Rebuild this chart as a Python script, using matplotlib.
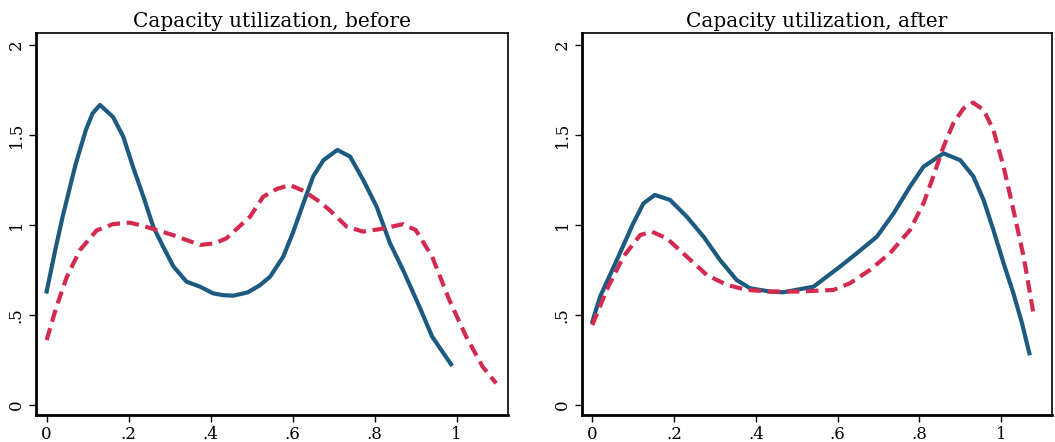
import matplotlib
matplotlib.use("Agg")
import matplotlib.pyplot as plt

# left panel: before
bef_blue_x = [0, 0.02, 0.039, 0.071, 0.096, 0.112, 0.13, 0.162, 0.187, 0.211, 0.236, 0.26, 0.284, 0.309,
              0.341, 0.374, 0.406, 0.43, 0.455, 0.49, 0.52, 0.545, 0.577, 0.60, 0.626, 0.65, 0.675, 0.709,
              0.74, 0.772, 0.805, 0.837, 0.869, 0.909, 0.94, 0.986]
bef_blue_y = [0.63, 0.85, 1.046, 1.34, 1.53, 1.62, 1.667, 1.60, 1.49, 1.32, 1.157, 0.99, 0.88, 0.77,
              0.685, 0.657, 0.62, 0.61, 0.607, 0.625, 0.665, 0.713, 0.824, 0.954, 1.12, 1.27, 1.36, 1.417,
              1.38, 1.25, 1.10, 0.90, 0.75, 0.546, 0.38, 0.226]
bef_red_x = [0, 0.024, 0.049, 0.081, 0.122, 0.162, 0.203, 0.235, 0.268, 0.308, 0.374, 0.41, 0.438, 0.496,
             0.528, 0.561, 0.593, 0.626, 0.659, 0.69, 0.732, 0.772, 0.821, 0.869, 0.90, 0.94, 0.982, 1.023,
             1.063, 1.096]
bef_red_y = [0.36, 0.546, 0.71, 0.86, 0.97, 1.005, 1.013, 0.995, 0.972, 0.944, 0.889, 0.898, 0.925, 1.046,
             1.157, 1.20, 1.222, 1.19, 1.14, 1.083, 0.99, 0.963, 0.98, 1.005, 0.972, 0.824, 0.583, 0.38,
             0.213, 0.12]

# right panel: after
aft_blue_x = [0, 0.019, 0.06, 0.10, 0.125, 0.153, 0.19, 0.231, 0.272, 0.312, 0.353, 0.386, 0.435, 0.467,
              0.541, 0.606, 0.647, 0.696, 0.737, 0.777, 0.81, 0.859, 0.90, 0.932, 0.957, 0.981, 1.006, 1.03,
              1.051, 1.069]
aft_blue_y = [0.463, 0.602, 0.806, 1.009, 1.12, 1.167, 1.139, 1.046, 0.935, 0.806, 0.694, 0.648, 0.63, 0.626,
              0.657, 0.769, 0.843, 0.935, 1.065, 1.213, 1.324, 1.398, 1.36, 1.27, 1.139, 0.972, 0.787, 0.62,
              0.454, 0.287]
aft_red_x = [0, 0.035, 0.076, 0.117, 0.145, 0.182, 0.231, 0.28, 0.329, 0.378, 0.435, 0.508, 0.59, 0.63,
             0.679, 0.728, 0.777, 0.81, 0.834, 0.859, 0.883, 0.908, 0.931, 0.957, 0.981, 1.006, 1.03, 1.055, 1.079]
aft_red_y = [0.444, 0.639, 0.824, 0.944, 0.963, 0.926, 0.824, 0.722, 0.667, 0.639, 0.63, 0.63, 0.639, 0.676,
             0.75, 0.843, 0.972, 1.12, 1.27, 1.435, 1.565, 1.648, 1.68, 1.64, 1.528, 1.324, 1.083, 0.824, 0.509]

titles = ["Capacity utilization, before", "Capacity utilization, after"]
xticks = [0, 0.2, 0.4, 0.6, 0.8, 1.0]
xlabels = ["0", ".2", ".4", ".6", ".8", "1"]
yticks = [0, 0.5, 1.0, 1.5, 2.0]
ylabels = ["0", ".5", "1", "1.5", "2"]

BLUE = "#1d5a80"
RED = "#d42a50"

plt.rcParams["font.family"] = ["DejaVu Serif"]
fig = plt.figure(figsize=(10.55, 4.42), dpi=100)
axes = [fig.add_axes([0.0341, 0.0611, 0.4474, 0.8643]),
        fig.add_axes([0.5514, 0.0611, 0.4460, 0.8643])]
data = [(bef_blue_x, bef_blue_y, bef_red_x, bef_red_y),
        (aft_blue_x, aft_blue_y, aft_red_x, aft_red_y)]

for ax, (bx, by, rx, ry), title in zip(axes, data, titles):
    ax.plot(bx, by, "-", color=BLUE, lw=3, solid_joinstyle="round")
    ax.plot(rx, ry, "--", color=RED, lw=3, dashes=(3, 1.6))
    ax.set_xlim(-0.026, 1.125)
    ax.set_ylim(-0.056, 2.067)
    ax.set_xticks(xticks)
    ax.set_xticklabels(xlabels)
    ax.set_yticks(yticks)
    ax.set_yticklabels(ylabels, rotation=90, va="center")
    ax.tick_params(direction="out", length=5, width=1, labelsize=12, pad=3)
    ax.spines["left"].set_linewidth(2)
    ax.spines["bottom"].set_linewidth(2)
    ax.spines["top"].set_linewidth(1.2)
    ax.spines["right"].set_linewidth(1.2)
    ax.set_title(title, fontsize=14.5, pad=4)

fig.savefig("out.png", dpi=100)
